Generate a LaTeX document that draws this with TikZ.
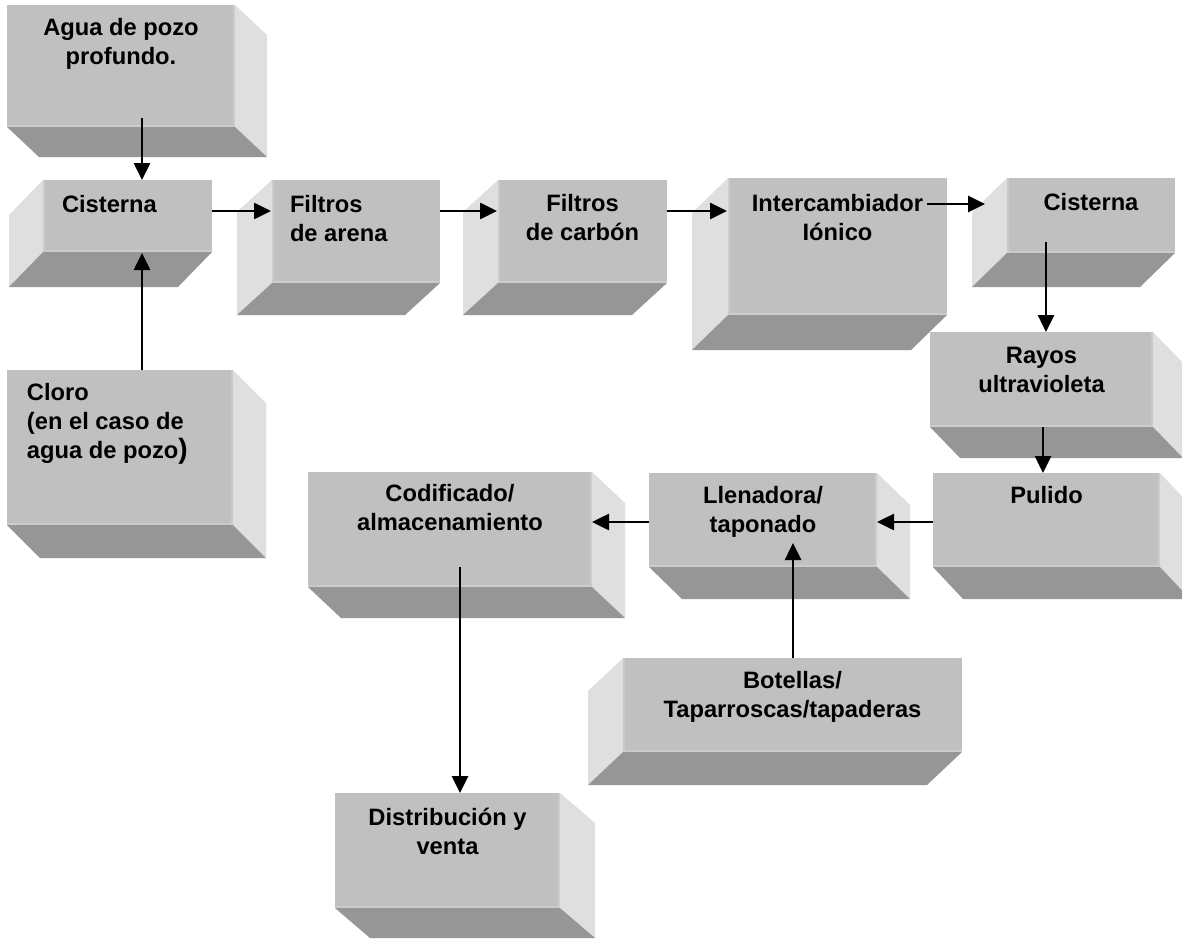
\documentclass[tikz,border=0pt]{standalone}
\usepackage{fontspec}
\setmainfont{Liberation Sans}
\usetikzlibrary{arrows.meta,calc}

\definecolor{facefront}{HTML}{C0C0C0}
\definecolor{faceside}{HTML}{DFDFDF}
\definecolor{facebottom}{HTML}{969696}
\definecolor{faceedge}{HTML}{CBCBCB}

\tikzset{
  frontface/.style={fill=facefront, inner sep=0pt, outer sep=0pt, anchor=north west,
    font=\fontsize{23.7}{29}\selectfont\bfseries},
  sideface/.style={fill=faceside},
  bottomface/.style={fill=facebottom},
  edgeline/.style={draw=faceedge, line width=2pt},
  flow/.style={line width=2.6pt, -{Triangle[length=17pt,width=16pt]}},
}

% front face of a block: name, x, y, width, height, text
\newcommand{\blockface}[6]{%
  \node[frontface] (#1) at (#2,#3)
    {\begin{minipage}[t][#5pt][t]{#4pt}#6\end{minipage}};}

% depth towards the lower right: name, dx, dy
\newcommand{\depthright}[3]{%
  \fill[sideface] (#1.north east) -- ++(#2,#3) -- ($(#1.south east)+(#2,#3)$) -- (#1.south east) -- cycle;
  \fill[bottomface] (#1.south west) -- (#1.south east) -- ++(#2,#3) -- ($(#1.south west)+(#2,#3)$) -- cycle;
  \draw[edgeline] ([yshift=1pt]#1.south west) -- ([xshift=-1pt,yshift=1pt]#1.south east) -- ([xshift=-1pt]#1.north east);}

% depth towards the lower left: name, dx, dy
\newcommand{\depthleft}[3]{%
  \fill[sideface] (#1.north west) -- ++(#2,#3) -- ($(#1.south west)+(#2,#3)$) -- (#1.south west) -- cycle;
  \fill[bottomface] (#1.south west) -- (#1.south east) -- ++(#2,#3) -- ($(#1.south west)+(#2,#3)$) -- cycle;
  \draw[edgeline] ([xshift=1pt]#1.north west) -- ([xshift=1pt,yshift=1pt]#1.south west) -- ([yshift=1pt]#1.south east);}

\newcommand{\firstline}[1]{\rule{0pt}{#1pt}}

\begin{document}
\begin{tikzpicture}[x=1pt,y=-1pt]
  \fill[white] (0,0) rectangle (1182,939);
  \useasboundingbox (0,0) rectangle (1182,939);

  % blocks
  \blockface{agua}{7}{5}{228}{122}{\centering\firstline{31}Agua de pozo\\profundo.}
  \depthright{agua}{32}{30}

  \blockface{cisL}{43}{180}{169}{72}{\raggedright\leftskip=19pt\firstline{32}Cisterna}
  \depthleft{cisL}{-34}{35}

  \blockface{filA}{272}{180}{168}{103}{\raggedright\leftskip=18pt\firstline{32}Filtros\\de arena}
  \depthleft{filA}{-35}{32}

  \blockface{filC}{498}{180}{169}{103}{\centering\firstline{31}Filtros\\de carbón}
  \depthleft{filC}{-35}{32}

  \blockface{inter}{728}{178}{219}{137}{\centering\firstline{33}Intercambiador\\Iónico}
  \depthleft{inter}{-36}{35}

  \blockface{cisR}{1007}{178}{168}{75}{\centering\firstline{32}Cisterna}
  \depthleft{cisR}{-35}{34}

  \blockface{rayos}{930}{332}{223}{95}{\centering\firstline{31}Rayos\\ultravioleta}
  \depthright{rayos}{30}{31}

  \blockface{pulido}{933}{473}{227}{94}{\centering\firstline{30}Pulido}
  \depthright{pulido}{30}{32}

  \blockface{cloro}{7}{370}{226}{155}{\raggedright\leftskip=20pt\firstline{30}Cloro\\(en el caso de\\agua de pozo{\fontsize{28}{29}\selectfont)}}
  \depthright{cloro}{33}{33}

  \blockface{codif}{308}{472}{284}{115}{\centering\firstline{29}Codificado/\\almacenamiento}
  \depthright{codif}{33}{31}

  \blockface{llen}{649}{473}{228}{94}{\centering\firstline{30}Llenadora/\\taponado}
  \depthright{llen}{33}{32}

  \blockface{bot}{623}{658}{339}{94}{\centering\firstline{30}Botellas/\\Taparroscas/tapaderas}
  \depthleft{bot}{-35}{33}

  \blockface{dist}{335}{793}{225}{115}{\centering\firstline{32}Distribución y\\venta}
  \depthright{dist}{35}{30}

  % flow arrows
  \draw[flow] ($(agua.south west)+(135,-9)$) -- ($(cisL.north west)+(99,0)$);
  \draw[flow] ($(cloro.north west)+(135,0)$) -- ($(cisL.south west)+(99,1)$);
  \draw[flow] ($(cisL.north east)+(0,31)$) -- ($(filA.north west)+(-1,31)$);
  \draw[flow] ($(filA.north east)+(0,31)$) -- ($(filC.north west)+(-1,31)$);
  \draw[flow] ($(filC.north east)+(0,31)$) -- ($(inter.north west)+(-1,33)$);
  \draw[flow] ($(inter.north east)+(-20,26)$) -- ($(cisR.north west)+(-22,26)$);
  \draw[flow] ($(cisR.south west)+(39,-11)$) -- ($(rayos.north west)+(116,0)$);
  \draw[flow] ($(rayos.south west)+(113,0)$) -- ($(pulido.north west)+(110,0)$);
  \draw[flow] ($(pulido.north west)+(0,49)$) -- ($(llen.north east)+(0,49)$);
  \draw[flow] ($(llen.north west)+(0,49)$) -- ($(codif.north east)+(0,50)$);
  \draw[flow] ($(bot.north west)+(170,0)$) -- ($(llen.north west)+(144,70)$);
  \draw[flow] ($(codif.north west)+(152,95)$) -- ($(dist.north west)+(125,0)$);
\end{tikzpicture}
\end{document}
